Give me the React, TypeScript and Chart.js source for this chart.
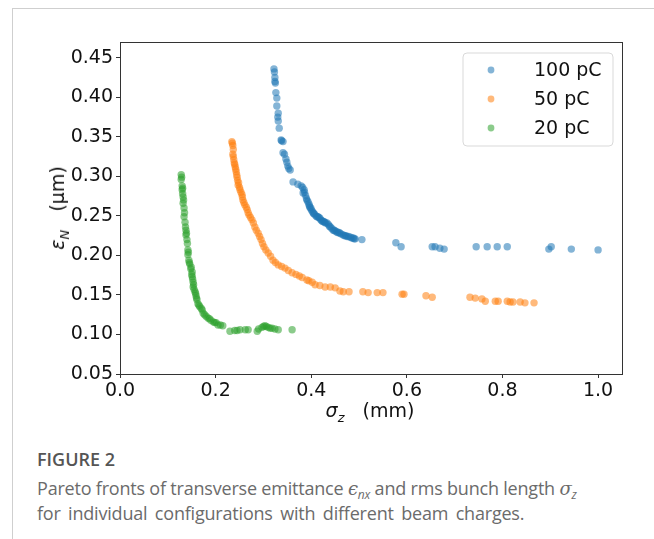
import React, { useEffect, useRef } from "react";
import { Chart, registerables } from "chart.js";
Chart.register(...registerables);

// 100 pC
const sigma100 = [0.322, 0.324, 0.324, 0.326, 0.328, 0.328, 0.331, 0.331, 0.333, 0.337, 0.341, 0.341, 0.347, 0.351, 0.356, 0.362, 0.372, 0.379, 0.383, 0.385, 0.388, 0.391, 0.393, 0.395, 0.397, 0.4, 0.402, 0.404, 0.407, 0.41, 0.414, 0.418, 0.42, 0.424, 0.428, 0.433, 0.436, 0.44, 0.446, 0.45, 0.455, 0.46, 0.467, 0.472, 0.478, 0.485, 0.488, 0.492, 0.506, 0.577, 0.588, 0.653, 0.659, 0.669, 0.678, 0.745, 0.768, 0.789, 0.81, 0.897, 0.902, 0.944, 1.0,
  0.323, 0.325, 0.33, 0.338, 0.344, 0.349, 0.353, 0.382, 0.386, 0.39, 0.396, 0.399, 0.405, 0.412, 0.416, 0.422, 0.426, 0.43, 0.438, 0.443, 0.448, 0.453, 0.458, 0.463, 0.47, 0.475, 0.482, 0.49];
const eps100 = [0.436, 0.425, 0.42, 0.406, 0.399, 0.389, 0.38, 0.37, 0.361, 0.346, 0.344, 0.33, 0.322, 0.313, 0.308, 0.293, 0.29, 0.288, 0.279, 0.283, 0.276, 0.27, 0.268, 0.265, 0.261, 0.258, 0.256, 0.254, 0.252, 0.25, 0.249, 0.247, 0.245, 0.243, 0.242, 0.241, 0.239, 0.236, 0.232, 0.231, 0.229, 0.228, 0.226, 0.225, 0.224, 0.222, 0.222, 0.221, 0.22, 0.216, 0.211, 0.211, 0.211, 0.209, 0.208, 0.211, 0.211, 0.211, 0.211, 0.208, 0.211, 0.208, 0.207,
  0.432, 0.418, 0.375, 0.345, 0.328, 0.318, 0.31, 0.286, 0.28, 0.272, 0.263, 0.26, 0.253, 0.249, 0.248, 0.244, 0.243, 0.241, 0.237, 0.234, 0.232, 0.23, 0.229, 0.227, 0.225, 0.224, 0.223, 0.221];

// 50 pC
const sigma50 = [0.234, 0.236, 0.236, 0.238, 0.241, 0.243, 0.245, 0.247, 0.251, 0.255, 0.257, 0.264, 0.268, 0.276, 0.282, 0.289, 0.295, 0.301, 0.31, 0.32, 0.331, 0.345, 0.36, 0.381, 0.391, 0.402, 0.408, 0.429, 0.45, 0.46, 0.467, 0.479, 0.508, 0.519, 0.538, 0.55, 0.59, 0.594, 0.64, 0.653, 0.732, 0.743, 0.757, 0.764, 0.785, 0.791, 0.81, 0.816, 0.822, 0.837, 0.847, 0.866,
  0.235, 0.237, 0.237, 0.239, 0.24, 0.242, 0.244, 0.246, 0.248, 0.25, 0.253, 0.256, 0.259, 0.261, 0.266, 0.27, 0.273, 0.279, 0.285, 0.292, 0.298, 0.305, 0.315, 0.325, 0.338, 0.352, 0.368, 0.375, 0.395, 0.418, 0.44];
const eps50 = [0.344, 0.339, 0.328, 0.321, 0.312, 0.306, 0.299, 0.289, 0.283, 0.277, 0.27, 0.261, 0.254, 0.245, 0.236, 0.228, 0.22, 0.211, 0.203, 0.194, 0.188, 0.184, 0.178, 0.172, 0.169, 0.166, 0.163, 0.16, 0.159, 0.155, 0.154, 0.154, 0.154, 0.153, 0.153, 0.153, 0.151, 0.151, 0.149, 0.147, 0.147, 0.146, 0.145, 0.142, 0.142, 0.142, 0.142, 0.141, 0.141, 0.141, 0.14, 0.14,
  0.342, 0.334, 0.325, 0.317, 0.315, 0.309, 0.302, 0.295, 0.292, 0.286, 0.28, 0.274, 0.267, 0.264, 0.258, 0.251, 0.248, 0.241, 0.232, 0.224, 0.215, 0.207, 0.199, 0.191, 0.186, 0.181, 0.176, 0.174, 0.168, 0.162, 0.16];

// 20 pC
const sigma20 = [0.128, 0.128, 0.13, 0.13, 0.132, 0.132, 0.134, 0.134, 0.136, 0.138, 0.138, 0.14, 0.142, 0.142, 0.144, 0.146, 0.149, 0.151, 0.151, 0.153, 0.153, 0.157, 0.159, 0.161, 0.163, 0.167, 0.172, 0.174, 0.18, 0.184, 0.19, 0.195, 0.201, 0.205, 0.215, 0.23, 0.251, 0.262, 0.268, 0.287, 0.297, 0.303, 0.31, 0.314, 0.324, 0.331, 0.36,
  0.129, 0.131, 0.131, 0.133, 0.135, 0.137, 0.139, 0.141, 0.143, 0.145, 0.148, 0.15, 0.152, 0.154, 0.155, 0.158, 0.16, 0.165, 0.17, 0.177, 0.187, 0.198, 0.21, 0.24, 0.245, 0.29, 0.3, 0.306, 0.318];
const eps20 = [0.302, 0.296, 0.288, 0.283, 0.274, 0.266, 0.26, 0.249, 0.242, 0.232, 0.226, 0.22, 0.207, 0.201, 0.194, 0.189, 0.185, 0.179, 0.173, 0.166, 0.16, 0.154, 0.149, 0.144, 0.139, 0.135, 0.131, 0.127, 0.123, 0.121, 0.118, 0.116, 0.115, 0.112, 0.111, 0.104, 0.106, 0.106, 0.106, 0.104, 0.109, 0.111, 0.109, 0.108, 0.107, 0.106, 0.106,
  0.299, 0.285, 0.278, 0.27, 0.254, 0.236, 0.228, 0.215, 0.204, 0.191, 0.183, 0.176, 0.17, 0.163, 0.157, 0.152, 0.146, 0.137, 0.133, 0.125, 0.12, 0.115, 0.112, 0.105, 0.105, 0.107, 0.11, 0.11, 0.108];

const seriesLabels = ["100 pC", "50 pC", "20 pC"];
const seriesRGB = ["31,119,180", "255,127,14", "44,160,44"];
const xTicks = [0.0, 0.2, 0.4, 0.6, 0.8, 1.0];
const yTicks = [0.05, 0.1, 0.15, 0.2, 0.25, 0.3, 0.35, 0.4, 0.45];

const FONT = "'DejaVu Sans', sans-serif";
const CAP = "'Open Sans', sans-serif";

export default function App() {
  const ref = useRef<HTMLCanvasElement>(null);
  useEffect(() => {
    const canvas = ref.current!;
    const pts = (xs: number[], ys: number[]) => xs.map((x, i) => ({ x, y: ys[i] }));
    const series = [pts(sigma100, eps100), pts(sigma50, eps50), pts(sigma20, eps20)];

    const framePlugin = {
      id: "frame",
      afterDatasetsDraw(chart: any) {
        const { ctx, chartArea: a } = chart;
        ctx.save();
        ctx.strokeStyle = "#333";
        ctx.lineWidth = 1;
        ctx.strokeRect(Math.round(a.left) + 0.5, Math.round(a.top) + 0.5, Math.round(a.right - a.left), Math.round(a.bottom - a.top));
        // legend
        const lx = 463, ly = 53, lw = 150, lh = 93, r = 4;
        ctx.beginPath();
        ctx.moveTo(lx + r, ly);
        ctx.arcTo(lx + lw, ly, lx + lw, ly + lh, r);
        ctx.arcTo(lx + lw, ly + lh, lx, ly + lh, r);
        ctx.arcTo(lx, ly + lh, lx, ly, r);
        ctx.arcTo(lx, ly, lx + lw, ly, r);
        ctx.closePath();
        ctx.fillStyle = "rgba(255,255,255,0.8)";
        ctx.fill();
        ctx.strokeStyle = "#d9d9d9";
        ctx.stroke();
        seriesLabels.forEach((lab, i) => {
          const cy = 70 + i * 29;
          ctx.beginPath();
          ctx.arc(491, cy, 3.4, 0, Math.PI * 2);
          ctx.fillStyle = `rgba(${seriesRGB[i]},0.55)`;
          ctx.fill();
          ctx.fillStyle = "#111";
          ctx.font = `19px ${FONT}`;
          ctx.textBaseline = "middle";
          ctx.textAlign = "left";
          ctx.fillText(lab, 534, cy + 1);
        });
        ctx.restore();
      },
    };

    const chart = new Chart(canvas, {
      type: "scatter",
      data: {
        datasets: series.map((d, i) => ({
          label: seriesLabels[i],
          data: d,
          backgroundColor: `rgba(${seriesRGB[i]},0.55)`,
          borderColor: `rgba(${seriesRGB[i]},0.55)`,
          borderWidth: 0,
          pointRadius: 3.7,
          pointHoverRadius: 3.7,
        })),
      },
      options: {
        responsive: false,
        animation: false,
        devicePixelRatio: 1,
        layout: { padding: { left: 0, top: 42, right: 32, bottom: 16 } },
        plugins: { legend: { display: false }, tooltip: { enabled: false } },
        scales: {
          x: {
            type: "linear",
            min: 0,
            max: 1.05,
            afterBuildTicks: (s: any) => { s.ticks = xTicks.map((v) => ({ value: v })); },
            afterFit: (s: any) => { s.height = 30; },
            ticks: { color: "#111", font: { family: FONT, size: 19 }, padding: 2, callback: (v: any) => Number(v).toFixed(1), maxRotation: 0 },
            grid: { drawOnChartArea: false, drawTicks: true, tickLength: 4, color: "#333" },
            border: { display: false },
          },
          y: {
            type: "linear",
            min: 0.05,
            max: 0.47,
            afterBuildTicks: (s: any) => { s.ticks = yTicks.map((v) => ({ value: v })); },
            afterFit: (s: any) => { s.width = 120; },
            ticks: { color: "#111", font: { family: FONT, size: 19 }, padding: 3, callback: (v: any) => Number(v).toFixed(2) },
            grid: { drawOnChartArea: false, drawTicks: true, tickLength: 4, color: "#333" },
            border: { display: false },
          },
        },
      },
      plugins: [framePlugin],
    });
    return () => chart.destroy();
  }, []);

  const subStyle = (size: number): React.CSSProperties => ({ fontSize: size, fontStyle: "italic", position: "relative", top: "0.35em", lineHeight: 0 });

  return (
    <div style={{ position: "absolute", left: 0, top: 0, width: 654, height: 539, background: "#fff", overflow: "hidden" }}>
      <div style={{ position: "absolute", left: 12, top: 8, width: 642, height: 531, borderTop: "1px solid #cfcfcf", borderLeft: "1px solid #cfcfcf" }} />
      <canvas ref={ref} width={654} height={420} style={{ position: "absolute", left: 0, top: 0, width: 654, height: 420 }} />
      <div style={{ position: "absolute", left: 57, top: 208, transform: "translate(-50%,-50%) rotate(-90deg)", whiteSpace: "nowrap", fontFamily: FONT, fontSize: 19, color: "#111", lineHeight: "22px" }}>
        <i>ε</i><span style={subStyle(13)}>N</span>{"\u00a0\u00a0\u00a0"}(μm)
      </div>
      <div style={{ position: "absolute", left: 370, top: 410, transform: "translate(-50%,-50%)", whiteSpace: "nowrap", fontFamily: FONT, fontSize: 19, color: "#111", lineHeight: "22px" }}>
        <i>σ</i><span style={subStyle(13)}>z</span>{"\u00a0\u00a0\u00a0"}(mm)
      </div>
      <div style={{ position: "absolute", left: 37, top: 447, fontFamily: CAP, fontSize: 18, fontWeight: 600, color: "#555", whiteSpace: "nowrap", lineHeight: "24px" }}>
        FIGURE 2
      </div>
      <div style={{ position: "absolute", left: 37, top: 476, fontFamily: CAP, fontSize: 18, lineHeight: "24px", color: "#6b6b6b", whiteSpace: "nowrap", letterSpacing: "-0.2px" }}>
        <div>
          Pareto fronts of transverse emittance <i style={{ fontFamily: "'DejaVu Serif', serif" }}>ϵ</i><span style={subStyle(12)}>nx</span> and rms bunch length <i style={{ fontFamily: "'DejaVu Serif', serif" }}>σ</i><span style={subStyle(12)}>z</span>
        </div>
        <div style={{ wordSpacing: "3px" }}>for individual configurations with different beam charges.</div>
      </div>
    </div>
  );
}
